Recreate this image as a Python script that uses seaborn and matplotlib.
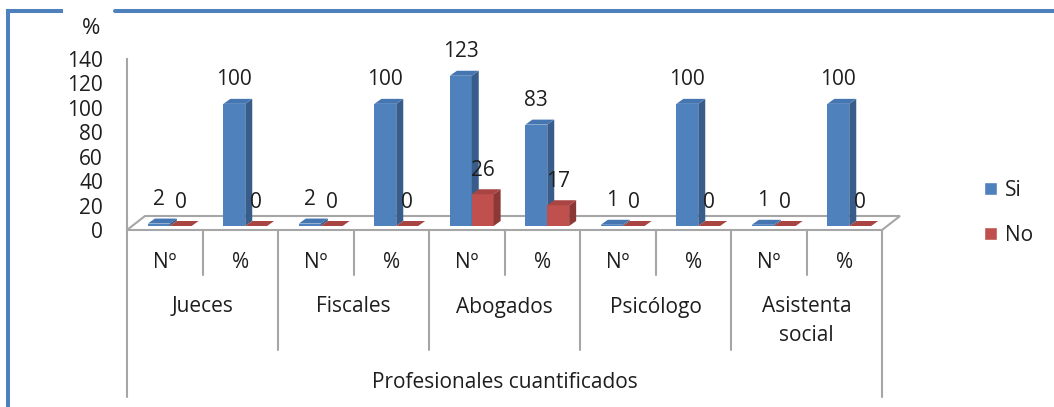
import pandas as pd
import seaborn as sns
import matplotlib.pyplot as plt
from matplotlib.patches import Polygon, Patch
from matplotlib.colors import to_hex
from matplotlib.transforms import blended_transform_factory, ScaledTranslation


# Datos del grafico
grupos = ['Jueces', 'Fiscales', 'Abogados', 'Psicólogo', 'Asistenta\nsocial']
medidas = ['Nº', '%']
si = [2, 100, 2, 100, 123, 83, 1, 100, 1, 100]
no = [0, 0, 0, 0, 26, 17, 0, 0, 0, 0]
series = ['Si', 'No']
titulo_x = 'Profesionales cuantificados'
unidad_y = '%'
yticks = [0, 20, 40, 60, 80, 100, 120, 140]

# Estilo
colores = {'Si': '#4F81BD', 'No': '#C0504D'}
lados = {'Si': '#385D8A', 'No': '#8C3836'}
techos = {'Si': '#4676B2', 'No': '#A84442'}
gris = '#A6A6A6'
texto = '#1E1E1E'
fs = 15

slots = [g + ' ' + m for g in grupos for m in medidas]
df = pd.DataFrame({
    'slot': slots * 2,
    'serie': ['Si'] * len(si) + ['No'] * len(no),
    'valor': si + no,
})

sns.set_style('white')
plt.rcParams['font.family'] = ['Open Sans', 'DejaVu Sans']

W, H = 1054, 407
fig = plt.figure(figsize=(W / 100, H / 100), dpi=100)

# capa de fondo en pixeles (marco, titulos)
deco = fig.add_axes([0, 0, 1, 1])
deco.set_xlim(0, W)
deco.set_ylim(H, 0)
deco.axis('off')

ax = fig.add_axes([127 / W, (H - 230) / H, 755 / W, 171 / H])
ax.patch.set_alpha(0)
sns.barplot(data=df, x='slot', y='valor', hue='serie', order=slots, hue_order=series,
            palette=colores, width=0.58, saturation=1, errorbar=None, legend=False, ax=ax)
ax.set_xlim(-0.5, len(slots) - 0.5)
ax.set_ylim(0, 140)
ax.set_yticks(yticks)
ax.set_xticks([])
ax.set_xlabel('')
ax.set_ylabel('')
for s in ['top', 'right', 'bottom']:
    ax.spines[s].set_visible(False)
ax.spines['left'].set_color(gris)
ax.spines['left'].set_linewidth(1.5)
ax.tick_params(axis='y', length=5.8, width=1.2, color=gris, pad=11.5, labelsize=fs, labelcolor=texto)

# conversion pixeles -> datos
pxx = 755 / len(slots)
pxy = 171 / 140
bt = blended_transform_factory(ax.transData, deco.transData)

# piso 3D
fx = 18 / pxx
piso = Polygon([(-0.5, 230), (len(slots) - 0.5, 230), (len(slots) - 0.5 + fx, 216), (-0.5 + fx, 216)],
               closed=True, facecolor='white', edgecolor=gris, lw=1.5, transform=bt, zorder=0.5,
               clip_on=False)
ax.add_patch(piso)

# barras con efecto 3D
shift = ax.transData + ScaledTranslation(5 / 100, 4 / 100, fig.dpi_scale_trans)
dxu, dyu = 7 / pxx, 5 / pxy
barras = list(ax.patches[:2 * len(slots)])
for p in barras:
    serie = 'Si' if to_hex(p.get_facecolor()) == to_hex(colores['Si']) else 'No'
    z = 2 if serie == 'Si' else 3
    x, w, h = p.get_x(), p.get_width(), p.get_height()
    p.set_transform(shift)
    p.set_zorder(z)
    p.set_edgecolor('none')
    lado = Polygon([(x + w, 0), (x + w, h), (x + w + dxu, h + dyu), (x + w + dxu, dyu)],
                   facecolor=lados[serie], edgecolor='none', transform=shift, zorder=z + 0.1, clip_on=False)
    techo = Polygon([(x, h), (x + w, h), (x + w + dxu, h + dyu), (x + dxu, h + dyu)],
                    facecolor=techos[serie], edgecolor='none', transform=shift, zorder=z + 0.2, clip_on=False)
    ax.add_patch(lado)
    ax.add_patch(techo)
    ax.annotate(f'{h:.0f}', xy=(x + w / 2, h), xytext=(5, 28), textcoords='offset pixels',
                ha='center', va='center', fontsize=fs, color=texto, zorder=5, annotation_clip=False)

# eje de categorias multinivel
n = len(slots)
for b in range(n + 1):
    if b in (0, n):
        fondo = 397
    elif b % 2 == 0:
        fondo = 350
    else:
        fondo = 275
    ax.plot([b - 0.5, b - 0.5], [230, fondo], color=gris, lw=1.5, transform=bt, clip_on=False, zorder=1)

for i, s in enumerate(slots):
    ax.text(i, 262, medidas[i % 2], transform=bt, ha='center', va='center', fontsize=fs, color=texto)
for g, nombre in enumerate(grupos):
    yy = 321 if '\n' in nombre else 307
    ax.text(2 * g + 0.5, yy, nombre, transform=bt, ha='center', va='center', fontsize=fs,
            color=texto, linespacing=1.55)
ax.text((n - 1) / 2, 383, titulo_x, transform=bt, ha='center', va='center', fontsize=fs, color=texto)

# unidad del eje y
deco.text(91, 28, unidad_y, ha='center', va='center', fontsize=fs + 1, color=texto)

# marco azul
marco = '#4F81BD'
deco.plot([8, 61], [11, 11], color=marco, lw=2.9, solid_capstyle='projecting')
deco.plot([115, W], [11, 11], color=marco, lw=2.9)
deco.plot([8, 8], [11, H], color=marco, lw=2.9, solid_capstyle='projecting')

# leyenda
handles = [Patch(facecolor=colores[s], label=s) for s in series]
fig.legend(handles=handles, loc='center left', bbox_to_anchor=(984, 213), bbox_transform=deco.transData,
           frameon=False, fontsize=fs, handlelength=0.6, handleheight=0.6, handletextpad=0.4,
           labelspacing=1.15, borderpad=0, borderaxespad=0, labelcolor=texto)

fig.savefig('out.png', dpi=100)
